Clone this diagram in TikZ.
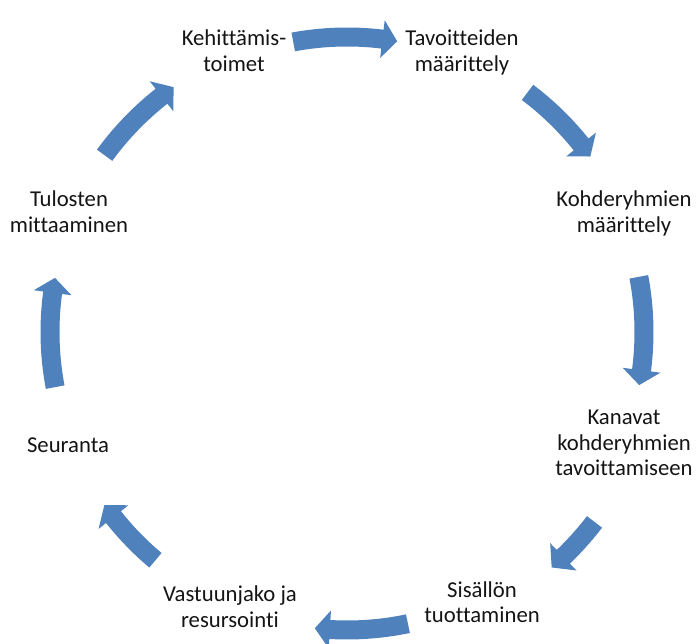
\documentclass[tikz,border=0pt]{standalone}
\usepackage{fontspec}
\setmainfont[Ligatures={NoCommon}]{Carlito}
\usetikzlibrary{calc}
\definecolor{arrowblue}{RGB}{79,129,189}
\definecolor{labeltext}{RGB}{20,20,20}
\tikzset{
  lbl/.style={align=center, inner sep=0pt, text=labeltext,
    font=\fontsize{22.7pt}{25.5pt}\selectfont,
    execute at begin node=\strut, execute at end node=\strut},
  cyc/.style={fill=arrowblue, draw=none}
}
% #1 radius, #2 tail angle, #3 tip angle (clockwise: tip < tail)
\newcommand\cycarrow[3]{%
  \pgfmathsetmacro\hbase{#3+2.9}%
  \pgfmathsetmacro\rin{#1-9.5}%
  \pgfmathsetmacro\rout{#1+9.5}%
  \pgfmathsetmacro\hin{#1-19}%
  \pgfmathsetmacro\hout{#1+19}%
  \fill[cyc] ($(C)+(#2:\rin pt)$) arc[start angle=#2, end angle=\hbase, radius=\rin pt]
    -- ($(C)+(\hbase:\hin pt)$) -- ($(C)+(#3:#1 pt)$) -- ($(C)+(\hbase:\hout pt)$)
    -- ($(C)+(\hbase:\rout pt)$) arc[start angle=\hbase, end angle=#2, radius=\rout pt] -- cycle;
}
\begin{document}
\begin{tikzpicture}[x=1pt,y=1pt]
\useasboundingbox (0,0) rectangle (698,644);
\coordinate (C) at (347,312);
% labels (screen y converted: 644 - y)
\node[lbl] (kehit) at (234,{644-54.5}) {Kehittämis-\\toimet};
\node[lbl] (tavoit) at (462,{644-54.5}) {Tavoitteiden\\määrittely};
\node[lbl] (kohde) at (624,{644-215.5}) {Kohderyhmien\\määrittely};
\node[lbl] (kanavat) at (624,{644-447}) {Kanavat\\kohderyhmien\\tavoittamiseen};
\node[lbl] (sisalto) at (482,{644-606}) {Sisällön\\tuottaminen};
\node[lbl] (vastuu) at (230,{644-610.5}) {Vastuunjako ja\\resursointi};
\node[lbl] (seuranta) at (68,{644-447}) {Seuranta};
\node[lbl] (tulokset) at (69,{644-215.5}) {Tulosten\\mittaaminen};
% cycle arrows
\cycarrow{295}{100.5}{80.2}
\cycarrow{300}{53}{35.8}
\cycarrow{297}{10.7}{-10.3}
\cycarrow{312}{-37.5}{-49}
\cycarrow{298}{-78.2}{-96.2}
\cycarrow{298}{-130}{-144.5}
\cycarrow{297}{190.7}{169.5}
\cycarrow{300}{143.9}{125.3}
\end{tikzpicture}
\end{document}
